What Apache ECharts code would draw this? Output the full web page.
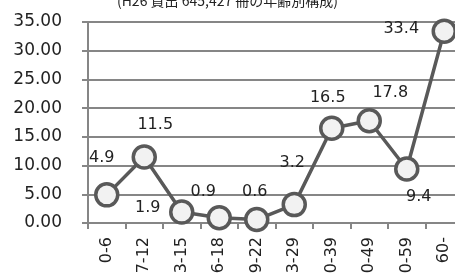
<!DOCTYPE html>
<html>
<head>
<meta charset="utf-8">
<script src="https://cdn.jsdelivr.net/npm/echarts@6/dist/echarts.min.js"></script>
<style>
  html, body { margin: 0; padding: 0; background: #fff; }
  #chart { width: 455px; height: 273px; }
</style>
</head>
<body>
<div id="chart"></div>
<script>
// age groups and share (%) of loans
var categories = ['0-6', '7-12', '13-15', '16-18', '19-22', '23-29', '30-39', '40-49', '50-59', '60-'];
var shares = [4.9, 11.5, 1.9, 0.9, 0.6, 3.2, 16.5, 17.8, 9.4, 33.4];
var titleText = '(H26 貸出 645,427 冊の年齢別構成)';

// where each value label sits around its point (like the excel chart)
var labelOffsets = [[-5, -37], [11, -32], [-34, -4], [-16, -26], [-2, -28],
                    [-2, -42], [-4, -30], [21, -28], [12, 28], [-43, -2]];

var points = shares.map(function (v, i) {
  return {
    value: v,
    label: { offset: labelOffsets[i] }
  };
});

var chart = echarts.init(document.getElementById('chart'));
chart.setOption({
  animation: false,
  title: {
    text: titleText,
    left: 'center',
    top: -11,
    textStyle: {
      fontFamily: 'Noto Sans CJK JP',
      fontSize: 14,
      fontWeight: 'normal',
      color: '#222'
    }
  },
  grid: {
    left: 88,
    top: 22,
    right: -8,
    bottom: 50,
    containLabel: false,
    outerBoundsMode: 'none'
  },
  xAxis: {
    type: 'category',
    data: categories,
    axisLine: { lineStyle: { color: '#868686', width: 2 } },
    axisTick: { show: true, length: 6, lineStyle: { color: '#868686', width: 2 } },
    axisLabel: {
      rotate: 90,
      margin: 14,
      fontFamily: 'DejaVu Sans',
      fontSize: 16,
      color: '#222'
    }
  },
  yAxis: {
    type: 'value',
    min: 0,
    max: 35,
    interval: 5,
    axisLine: { show: true, lineStyle: { color: '#868686', width: 2 } },
    axisTick: { show: true, length: 6, lineStyle: { color: '#868686', width: 2 } },
    splitLine: { lineStyle: { color: '#868686', width: 2 } },
    axisLabel: {
      margin: 26,
      fontFamily: 'DejaVu Sans',
      fontSize: 17,
      color: '#222',
      formatter: function (v) { return v.toFixed(2); }
    }
  },
  series: [{
    type: 'line',
    data: points,
    symbol: 'circle',
    symbolSize: 22,
    lineStyle: { color: '#595959', width: 3.5 },
    itemStyle: { color: '#f2f2f2', borderColor: '#595959', borderWidth: 3.5 },
    label: {
      show: true,
      position: 'inside',
      fontFamily: 'DejaVu Sans',
      fontSize: 16,
      color: '#222'
    }
  }]
});
</script>
</body>
</html>
